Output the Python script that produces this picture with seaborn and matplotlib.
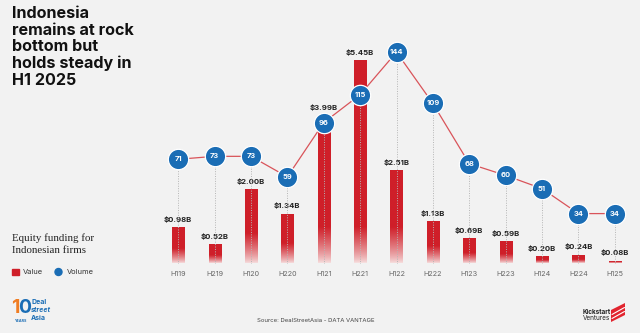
import numpy as np
import pandas as pd
import matplotlib
matplotlib.use("Agg")
import matplotlib.pyplot as plt
import seaborn as sns
from matplotlib.colors import to_rgb
from matplotlib.patches import Polygon

periods = ["H119", "H219", "H120", "H220", "H121", "H221", "H122",
           "H222", "H123", "H223", "H124", "H224", "H125"]
values = [0.98, 0.52, 2.00, 1.34, 3.99, 5.45, 2.51, 1.13, 0.69, 0.59, 0.20, 0.24, 0.08]
value_labels = ["$0.98B", "$0.52B", "$2.00B", "$1.34B", "$3.99B", "$5.45B", "$2.51B",
                "$1.13B", "$0.69B", "$0.59B", "$0.20B", "$0.24B", "$0.08B"]
volumes = [71, 73, 73, 59, 96, 115, 144, 109, 68, 60, 51, 34, 34]

BG = "#f2f2f2"
RED = "#cf1f29"
BLUE = "#1a6db5"
LINE_RED = "#d9545a"

sns.set_theme(style="white")
plt.rcParams["font.family"] = ["Inter", "DejaVu Sans"]

df = pd.DataFrame({"period": periods, "value": values, "volume": volumes})

W, H = 640, 333
fig = plt.figure(figsize=(W / 100, H / 100), dpi=100, facecolor=BG)

ax_left = 160 / W
ax_width = 473 / W
ax_bottom = (H - 263.5) / H
ax_height = 240 / H
ax = fig.add_axes([ax_left, ax_bottom, ax_width, ax_height])
ax.set_facecolor("none")
px_per_b = 37.3
px_per_vol = 1.468
ymax = 240 / px_per_b
ax.set_ylim(0, ymax)

sns.barplot(data=df, x="period", y="value", ax=ax, color=RED, width=0.33,
            saturation=1, zorder=3)

# gradient (fade toward the baseline) for each bar
red_rgb = np.array(to_rgb(RED))
bg_rgb = np.array(to_rgb("#f6dede"))
for p in ax.patches:
    x0, y0 = p.get_x(), p.get_y()
    w, h = p.get_width(), p.get_height()
    p.set_facecolor("none")
    p.set_edgecolor("none")
    hpx = h * px_per_b
    fade_px = min(36.0, 0.4 * hpx)
    ys = np.linspace(0, hpx, 200)
    t = np.clip(ys / max(fade_px, 1e-6), 0, 1) ** 0.8
    cols = bg_rgb[None, :] * (1 - t[:, None]) + red_rgb[None, :] * t[:, None]
    img = cols.reshape(-1, 1, 3)
    im = ax.imshow(img, extent=[x0, x0 + w, y0, y0 + h], origin="lower",
                   aspect="auto", zorder=3, interpolation="bilinear")
    im.set_clip_path(p)

ax.set_xlim(-0.5, len(periods) - 0.5)
ax.set_ylim(0, ymax)

for i, (v, lab) in enumerate(zip(values, value_labels)):
    ax.annotate(lab, (i, v), xytext=(0, 3), textcoords="offset points",
                ha="center", va="bottom", fontsize=5.6, fontweight="bold",
                color="#222222", zorder=6)

# volume axis
ax2 = ax.twinx()
ax2.set_facecolor("none")
ax2.set_ylim(0, 240 / px_per_vol)
xs = np.arange(len(periods))
for i, vol in enumerate(volumes):
    ax2.plot([i, i], [0, vol], color="#b5b5b5", lw=0.7, ls=(0, (1, 1.5)), zorder=1)
sns.lineplot(x=xs, y=volumes, ax=ax2, color=LINE_RED, lw=0.9, zorder=4)
ax2.scatter(xs, volumes, s=215, color=BLUE, edgecolor="white", linewidth=0.9, zorder=5)
for i, vol in enumerate(volumes):
    ax2.text(i, vol, str(vol), ha="center", va="center", fontsize=5.4,
             fontweight="bold", color="white", zorder=6)
ax2.set_xlim(-0.5, len(periods) - 0.5)

for a in (ax, ax2):
    for s in a.spines.values():
        s.set_visible(False)
    a.set_yticks([])
    a.set_ylabel("")
    a.set_xlabel("")
ax2.set_xticks([])
ax.set_xticks(xs)
ax.set_xticklabels(periods, fontsize=5.2, color="#666666")
ax.tick_params(axis="x", length=0, pad=5.5)

# title
fig.text(12 / W, 1 - 6 / H, "Indonesia\nremains at rock\nbottom but\nholds steady in\nH1 2025",
         ha="left", va="top", fontsize=11.6, fontweight="bold", color="#111111",
         linespacing=1.13)

# subtitle
fig.text(12 / W, 1 - 233 / H, "Equity funding for\nIndonesian firms", ha="left", va="top",
         fontsize=7.8, color="#222222", family="Liberation Serif", linespacing=1.4)

# legend
fig.patches.append(plt.Rectangle((12 / W, 1 - 275 / H), 6.5 / W, 6.5 / H,
                                 transform=fig.transFigure, color=RED))
fig.text(23 / W, 1 - 272.5 / H, "Value", ha="left", va="center", fontsize=5.4, color="#333333")
fig.add_artist(matplotlib.patches.Ellipse((58.5 / W, 1 - 272 / H), 7 / W, 7 / H,
                                          transform=fig.transFigure, color=BLUE))
fig.text(67 / W, 1 - 272.5 / H, "Volume", ha="left", va="center", fontsize=5.4, color="#333333")

# source
fig.text(316 / W, 1 - 320 / H, "Source: DealStreetAsia - DATA VANTAGE", ha="center", va="center",
         fontsize=4.3, color="#444444")

# DealStreetAsia logo (text approximation)
fig.text(11 / W, 1 - 308 / H, "1", ha="left", va="center", fontsize=14, fontweight="bold",
         color="#f07d23")
fig.text(18.5 / W, 1 - 308 / H, "0", ha="left", va="center", fontsize=14, fontweight="bold",
         color=BLUE)
fig.text(15 / W, 1 - 320.5 / H, "YEARS", ha="left", va="center", fontsize=2.6, fontweight="bold",
         color=BLUE)
fig.text(31 / W, 1 - 301.5 / H, "Deal", ha="left", va="center", fontsize=5.0, fontweight="bold",
         color=BLUE)
fig.text(31 / W, 1 - 310 / H, "street", ha="left", va="center", fontsize=5.0, fontweight="bold",
         style="italic", color=BLUE)
fig.text(31 / W, 1 - 318.5 / H, "Asia", ha="left", va="center", fontsize=5.0, fontweight="bold",
         color=BLUE)

# Kickstart Ventures logo (approximation)
fig.text(583 / W, 1 - 311.5 / H, "Kickstart", ha="left", va="center", fontsize=4.6,
         fontweight="bold", color="#222222")
fig.text(583 / W, 1 - 318.5 / H, "Ventures", ha="left", va="center", fontsize=4.6,
         color="#222222")
flag = Polygon([[611 / W, 1 - 310 / H], [625 / W, 1 - 303 / H], [625 / W, 1 - 315 / H],
                [611 / W, 1 - 322 / H]], closed=True, transform=fig.transFigure,
               facecolor="#e1252f", edgecolor="none")
fig.add_artist(flag)
for dy in (4.5, 8.5):
    fig.add_artist(matplotlib.lines.Line2D([612 / W, 624.5 / W],
                                           [1 - (310 + dy) / H, 1 - (303 + dy) / H],
                                           transform=fig.transFigure, color="white", lw=0.8))

fig.savefig("out.png", dpi=100, facecolor=BG)
